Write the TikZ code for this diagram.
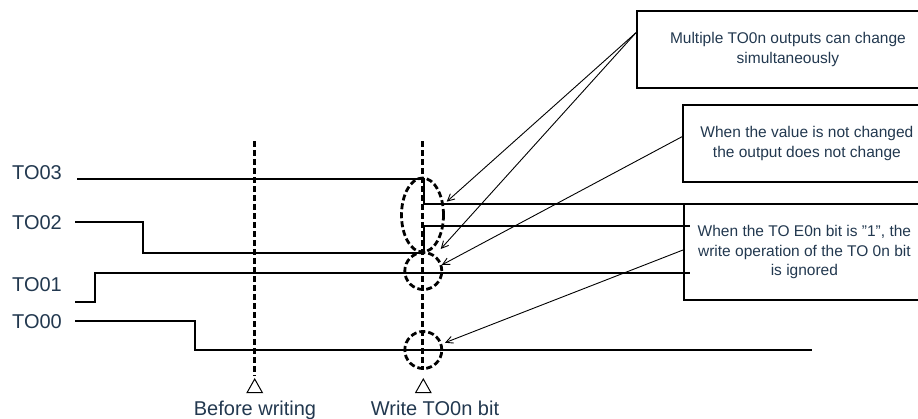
\documentclass[tikz,border=0pt]{standalone}
\usepackage{fontspec}
\setmainfont{Liberation Sans}
\usetikzlibrary{arrows.meta,shapes.geometric}
\definecolor{txt}{HTML}{22384F}
\begin{document}
\begin{tikzpicture}[x=1pt,y=-1pt,
  sig/.style={line width=2pt, line join=miter},
  vdash/.style={line width=3pt, dash pattern=on 6pt off 3pt},
  ring/.style={draw, line width=2.8pt, dash pattern=on 6pt off 3pt, inner sep=0pt},
  callout/.style={draw, line width=1.8pt, anchor=north west, align=center,
    font=\fontsize{15.5}{19.5}\selectfont, text=txt, inner sep=0pt},
  lbl/.style={font=\fontsize{20}{24}\selectfont, text=txt, inner sep=0pt},
  ptr/.style={line width=0.9pt, -{Straight Barb[length=7pt,width=7pt]}},
  tri/.style={line width=1pt, fill=white, line join=miter}]

\useasboundingbox (0,0) rectangle (918,418);
\clip (0,0) rectangle (918,418);

% signal labels
\node[lbl, anchor=west] (l3) at (12,172.7) {TO03};
\node[lbl, anchor=west] (l2) at (12,222.7) {TO02};
\node[lbl, anchor=west] (l1) at (12,285) {TO01};
\node[lbl, anchor=west] (l0) at (12,321.7) {TO00};

% waveforms
\draw[sig] (77,179) -- (424,179) -- (424,204) -- (690,204);
\draw[sig] (75,222) -- (143,222) -- (143,253) -- (424,253) -- (424,226) -- (690,226);
\draw[sig] (75,302) -- (95,302) -- (95,273) -- (690,273);
\draw[sig] (75,321) -- (195,321) -- (195,350) -- (811.7,350);

% time markers
\coordinate (bt) at (254.7,141);
\coordinate (bb) at (254.7,376);
\coordinate (wt) at (422.7,141);
\coordinate (wb) at (422.7,370);
\draw[vdash] (bt) -- (bb);
\draw[vdash] (wt) -- (wb);
\draw[tri] (254.7,379) -- (262.4,392.7) -- (247,392.7) -- cycle;
\draw[tri] (423.3,379) -- (431,392.7) -- (415.6,392.7) -- cycle;
\node[lbl, anchor=base] (bw) at (255,415) {Before writing};
\node[lbl, anchor=base] (ww) at (435,415) {Write TO0n bit};

% highlight rings
\node[ring, ellipse, minimum width=42pt, minimum height=74pt] (el) at (422.5,215) {};
\node[ring, circle, minimum size=37pt] (c1) at (423.3,271) {};
\node[ring, circle, minimum size=37pt] (c2) at (423.3,350) {};

% callouts
\node[callout, minimum width=302pt, minimum height=76.7pt] (box1) at (636,10)
  {Multiple TO0n outputs can change\\simultaneously};
\node[callout, minimum width=248pt, minimum height=77pt] (box2) at (682,104)
  {When the value is not changed\\the output does not change};
\node[callout, minimum width=241pt, minimum height=96pt] (box3) at (683,203.3)
  {When the TO E0n bit is \char34 1\char34, the\\write operation of the TO 0n bit\\is ignored};

% pointers
\coordinate (s1) at (636,32.7);
\coordinate (s2) at (682,136.7);
\coordinate (s3) at (683,250);
\coordinate (t1) at (446.7,201.7);
\coordinate (t2) at (440.7,249);
\coordinate (t3) at (441.7,265);
\coordinate (t4) at (445,342.7);
\draw[ptr] (s1) -- (t1);
\draw[ptr] (s1) -- (t2);
\draw[ptr] (s2) -- (t3);
\draw[ptr] (s3) -- (t4);
\end{tikzpicture}
\end{document}
